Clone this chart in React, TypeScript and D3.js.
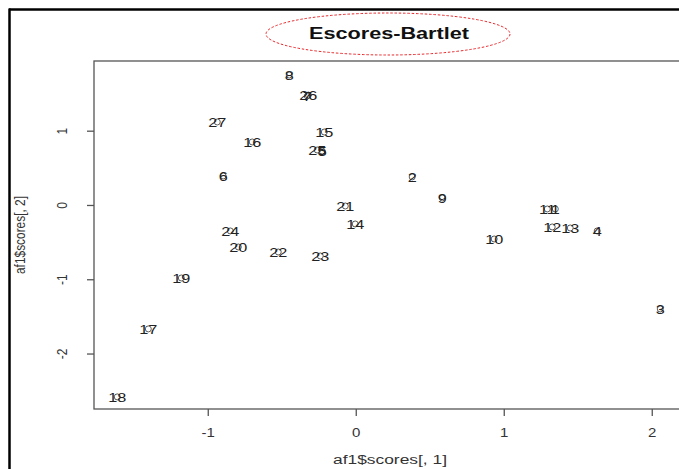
import React from "react";
import * as d3 from "d3";

const pointLabels = ["1","2","3","4","5","6","7","8","9","10","11","12","13","14","15","16","17","18","19","20","21","22","23","24","25","26","27"];
const scores1 = [1.345,0.378,2.054,1.628,-0.230,-0.899,-0.331,-0.453,0.581,0.932,1.291,1.324,1.446,-0.007,-0.216,-0.703,-1.405,-1.615,-1.182,-0.797,-0.074,-0.527,-0.243,-0.851,-0.264,-0.324,-0.939];
const scores2 = [-0.047,0.384,-1.393,-0.343,0.733,0.397,1.474,1.756,0.101,-0.451,-0.047,-0.289,-0.303,-0.249,0.989,0.855,-1.662,-2.577,-0.976,-0.559,-0.007,-0.626,-0.680,-0.343,0.747,1.487,1.124];
const xTicks = [-1, 0, 1, 2];
const yTicks = [-2, -1, 0, 1];
const titleText = "Escores-Bartlet";
const xTitle = "af1$scores[, 1]";
const yTitle = "af1$scores[, 2]";

const W = 679, H = 469;
const left = 94, top = 61, bottom = 409;

export default function App() {
  const x = d3.scaleLinear().domain([-1.772, 2.252]).range([left, left + 4.024 * 148]);
  const y = d3.scaleLinear().domain([-2.74, 1.945]).range([bottom, top]);
  const right = x(2.252);
  const font = "'Liberation Sans', Arial, sans-serif";
  const sx = 1.25;
  return (
    <svg width={W} height={H} style={{ position: "absolute", left: 0, top: 0, background: "#fff" }} fontFamily={font}>
      <rect x={0} y={0} width={W} height={H} fill="#fff" />
      {/* outer frame */}
      <line x1={9} y1={9.5} x2={W} y2={9.5} stroke="#000" strokeWidth={2.5} />
      <line x1={9.5} y1={8.5} x2={9.5} y2={H} stroke="#000" strokeWidth={2.5} />
      {/* title */}
      <ellipse cx={388} cy={34} rx={122} ry={21} fill="none" stroke="#e8262a" strokeWidth={1} strokeDasharray="2.5,1.8" />
      <text x={389} y={39} textAnchor="middle" fontWeight="bold" fontSize={16} fill="#111" textLength={160} lengthAdjust="spacingAndGlyphs">{titleText}</text>
      {/* plot box */}
      <rect x={left} y={top} width={right - left} height={bottom - top} fill="none" stroke="#555" strokeWidth={1.3} />
      {/* x axis */}
      {xTicks.map((t) => (
        <g key={"xt" + t}>
          <line x1={x(t)} x2={x(t)} y1={bottom} y2={bottom + 7} stroke="#555" strokeWidth={1.3} />
          <g transform={`translate(${x(t)},${437}) scale(${sx},1)`}>
            <text x={0} y={0} textAnchor="middle" fontSize={12} fill="#333">{t}</text>
          </g>
        </g>
      ))}
      <text x={390} y={464} textAnchor="middle" fontSize={12} fill="#333" textLength={114} lengthAdjust="spacingAndGlyphs">{xTitle}</text>
      {/* y axis */}
      {yTicks.map((t) => (
        <g key={"yt" + t}>
          <line x1={left - 7} x2={left} y1={y(t)} y2={y(t)} stroke="#555" strokeWidth={1.3} />
          <g transform={`translate(${67},${y(t)}) rotate(-90) scale(1,${sx})`}>
            <text x={0} y={0} textAnchor="middle" fontSize={12} fill="#333">{t}</text>
          </g>
        </g>
      ))}
      <g transform={`translate(${25},${235}) rotate(-90) scale(1,${sx})`}>
        <text x={0} y={0} textAnchor="middle" fontSize={12} fill="#333" textLength={78} lengthAdjust="spacingAndGlyphs">{yTitle}</text>
      </g>
      {/* points */}
      {pointLabels.map((l, i) => (
        <circle key={"c" + l} cx={x(scores1[i])} cy={y(scores2[i])} r={3} fill="none" stroke="#333" strokeWidth={0.8} />
      ))}
      {pointLabels.map((l, i) => (
        <g key={"t" + l} transform={`translate(${x(scores1[i])},${y(scores2[i])}) scale(${sx},1)`}>
          <text x={0} y={0} dy="0.36em" textAnchor="middle" fontSize={13} fill="#222">{l}</text>
        </g>
      ))}
    </svg>
  );
}
